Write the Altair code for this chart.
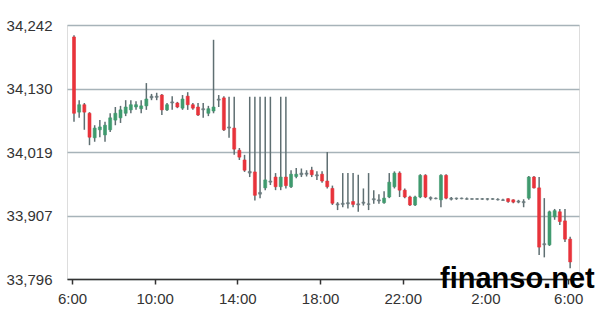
import altair as alt
import pandas as pd

# 15-minute candles, 6:00 -> 6:00 next day
opens = [34221,34089,34102,34087,34044,34058,34049,34058,34075,34079,34087,34093,34098,34095,34100,34114,34117,34119,34093,34105,
         34105,34096,34117,34102,34098,34093,34087,34091,34110,34114,34061,34061,34022,34005,33985,33984,33945,33956,33966,33975,
         33958,33975,33958,33976,33979,33980,33987,33979,33980,33968,33955,33928,33929,33930,33932,33928,33931,33928,33935,33933,
         33930,33940,33958,33982,33952,33940,33926,33940,33978,33939,33938,33935,33978,33938,33937,33938,33937,33937,33936,33937,
         33936,33937,33936,33935,33937,33935,33933,33932,33938,33975,33956,33858,33856,33905,33914,33898,33866]
highs = [34224,34110,34105,34089,34066,34075,34072,34087,34098,34100,34110,34110,34108,34110,34140,34121,34123,34121,34105,34117,
         34107,34119,34124,34105,34105,34105,34100,34216,34119,34117,34116,34116,34026,34014,34116,34116,34116,34116,34116,33982,
         34116,34116,33987,33991,33990,33987,33993,33985,33985,34019,33960,33931,33982,33982,33982,33979,33955,33982,33952,33945,
         33950,33982,33985,33985,33955,33942,33942,33980,33980,33941,33939,33980,33980,33940,33939,33939,33939,33938,33938,33938,
         33938,33938,33938,33937,33938,33936,33935,33936,33977,33977,33975,33938,33916,33919,33919,33919,33870]
lows = [34072,34079,34058,34031,34037,34045,34037,34054,34066,34070,34082,34087,34093,34087,34093,34110,34110,34084,34091,34093,
        34096,34093,34093,34093,34082,34079,34082,34087,34098,34056,34044,34014,34005,33984,33975,33934,33938,33952,33961,33952,
        33952,33955,33956,33973,33975,33976,33975,33970,33965,33955,33926,33917,33922,33920,33922,33914,33925,33917,33928,33928,
        33928,33938,33955,33940,33938,33924,33924,33938,33938,33934,33936,33922,33936,33934,33935,33936,33935,33935,33935,33935,
        33934,33935,33934,33933,33930,33929,33929,33922,33935,33955,33838,33834,33854,33900,33891,33861,33815]
closes = [34087,34102,34089,34045,34061,34063,34066,34079,34087,34093,34098,34102,34102,34100,34112,34117,34115,34093,34102,34107,
          34098,34112,34102,34096,34084,34095,34095,34098,34112,34058,34063,34024,34010,33987,33982,33943,33948,33970,33968,33958,
          33975,33960,33980,33980,33982,33982,33979,33977,33968,33958,33929,33926,33927,33928,33927,33926,33929,33927,33937,33935,
          33938,33966,33982,33952,33940,33926,33940,33978,33940,33937,33937,33978,33938,33936,33938,33937,33936,33936,33937,33936,
          33937,33936,33935,33934,33932,33931,33931,33930,33975,33956,33852,33856,33914,33916,33897,33866,33826]

y_ticks = [33796, 33907, 34019, 34130, 34242]
x_tick_hours = [(1, 6), (1, 10), (1, 14), (1, 18), (1, 22), (2, 2), (2, 6)]

base = pd.Timestamp("2024-01-01 06:00")
times = [(base + pd.Timedelta(minutes=15 * i)).strftime("%Y-%m-%dT%H:%M:%S") for i in range(len(opens))]

df = pd.DataFrame({"time": times, "open": opens, "high": highs, "low": lows, "close": closes})
diff = df["close"] - df["open"]
df["dir"] = ["flat" if abs(d) <= 3 else ("up" if d > 0 else "down") for d in diff]

x_enc = alt.X(
    "time:T",
    scale=alt.Scale(domain=[alt.DateTime(year=2024, month=1, date=1, hours=6),
                            alt.DateTime(year=2024, month=1, date=2, hours=6, minutes=17)]),
    axis=alt.Axis(
        values=[alt.DateTime(year=2024, month=1, date=d, hours=h) for d, h in x_tick_hours],
        format="%-H:%M", title=None, grid=False, domainColor="#333333", domainWidth=1.5,
        tickColor="#333333", tickSize=5, tickWidth=1.5, labelFontSize=15, labelColor="#333333",
        labelFont="Liberation Sans", labelPadding=7, labelFlush=False, labelOverlap=False,
    ),
)
y_scale = alt.Scale(domain=[33796, 34242], nice=False, zero=False)
y_axis = alt.Axis(values=y_ticks, format=",d", title=None, domain=False, ticks=False,
                  gridColor="#a7b3b9", gridWidth=1.5, labelFontSize=15, labelColor="#333333",
                  labelFont="Liberation Sans", labelPadding=15, labelFlush=False)

color = alt.Color("dir:N", scale=alt.Scale(domain=["up", "down", "flat"],
                                            range=["#3f9a6e", "#e8333b", "#6d7c80"]), legend=None)

wicks = alt.Chart(df).mark_rule(color="#5f6f72", strokeWidth=1.5, xOffset=2).encode(
    x=x_enc, y=alt.Y("low:Q", scale=y_scale, axis=y_axis), y2="high:Q")

bodies = alt.Chart(df).mark_bar(width=3, strokeWidth=0.6, xOffset=2).encode(
    x=x_enc, y=alt.Y("open:Q", scale=y_scale, axis=y_axis), y2="close:Q",
    color=color, stroke=color)

watermark = alt.Chart(pd.DataFrame({"t": ["finanso.net"]})).mark_text(
    font="Liberation Sans", fontWeight="bold", fontSize=29, color="#000000",
    align="left", baseline="alphabetic").encode(
    text="t:N", x=alt.value(373), y=alt.value(263))

chart = alt.layer(wicks, bodies, watermark).properties(
    width=512, height=254,
    autosize=alt.AutoSizeParams(type="none"),
    padding={"left": 67, "top": 25, "right": 20, "bottom": 30},
).configure_view(fill="#daebf1", stroke=None).configure(background="#ffffff")

chart.save("out.html", embed_options={"renderer": "svg", "actions": False})
